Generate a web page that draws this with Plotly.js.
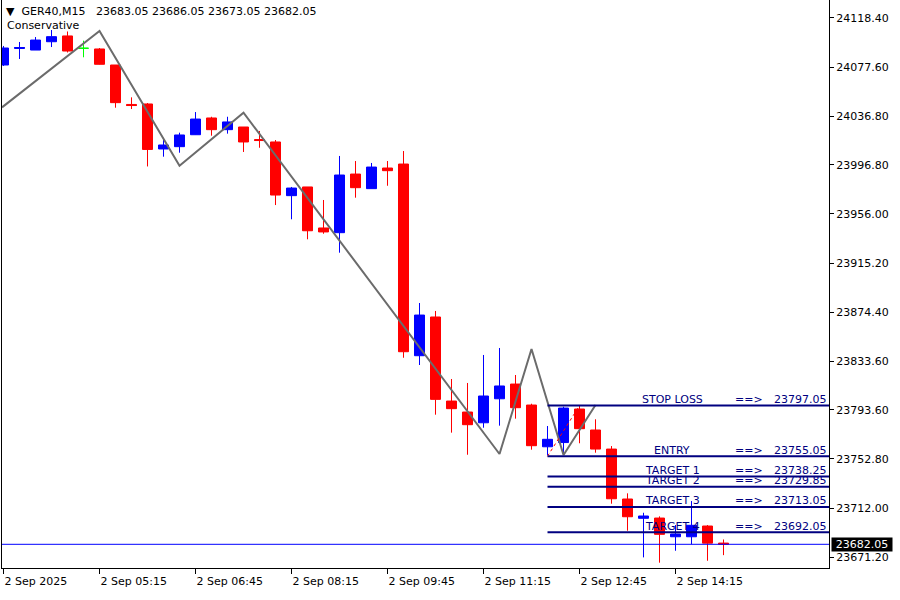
<!DOCTYPE html>
<html>
<head>
<meta charset="utf-8">
<script src="https://cdn.plot.ly/plotly-3.0.1.min.js"></script>
<style>
  html, body { margin: 0; padding: 0; background: #fff; }
  #chart { width: 900px; height: 600px; }
</style>
</head>
<body>
<div id="chart"></div>
<script>
var symbol = 'GER40,M15';
var indicatorName = 'Conservative';
var day = '2025-09-02 ';

// 15 minute bars
var times = [
  '03:45', '04:00', '04:15', '04:30', '04:45', '05:00', '05:15', '05:30',
  '05:45', '06:00', '06:15', '06:30', '06:45', '07:00', '07:15', '07:30',
  '07:45', '08:00', '08:15', '08:30', '08:45', '09:00', '09:15', '09:30',
  '09:45', '10:00', '10:15', '10:30', '10:45', '11:00', '11:15', '11:30',
  '11:45', '12:00', '12:15', '12:30', '12:45', '13:00', '13:15', '13:30',
  '13:45', '14:00', '14:15', '14:30', '14:45', '15:00'
].map(function (t) { return day + t; });

var opens = [
  24079.4, 24093.1, 24091.8, 24098.7, 24103.5, 24093.3, 24092.7, 24079.4,
  24046.7, 24047.1, 24009.8, 24011.7, 24021.6, 24035.5, 24025.8, 24028.0,
  24017.6, 24015.6, 23971.1, 23978.3, 23944.3, 23940.4, 23989.0, 23976.9,
  23994.0, 23997.3, 23838.4, 23870.5, 23800.8, 23791.7, 23782.8, 23802.7,
  23814.9, 23797.5, 23762.9, 23766.4, 23794.2, 23776.8, 23761.0, 23719.6,
  23703.6, 23703.8, 23688.3, 23688.3, 23697.2, 23683.05
];
var highs = [
  24095.2, 24098.5, 24102.6, 24108.4, 24107.2, 24099.6, 24093.5, 24079.4,
  24052.6, 24047.9, 24017.2, 24023.3, 24040.4, 24036.5, 24036.5, 24028.0,
  24024.7, 24017.2, 23978.3, 23978.3, 23967.5, 24004.0, 23999.8, 23998.2,
  23999.8, 24008.1, 23882.1, 23875.5, 23819.1, 23815.8, 23839.0, 23844.8,
  23822.4, 23798.6, 23780.1, 23796.1, 23796.7, 23785.7, 23763.5, 23724.3,
  23708.2, 23705.2, 23698.0, 23717.9, 23698.0, 23686.05
];
var lows = [
  24078.6, 24084.4, 24091.8, 24094.3, 24089.8, 24085.8, 24079.8, 24044.0,
  24042.9, 23995.3, 24003.4, 24006.7, 24021.4, 24020.8, 24022.5, 24007.3,
  24010.8, 23963.3, 23951.5, 23934.9, 23939.5, 23923.8, 23969.4, 23976.9,
  23979.3, 23836.7, 23830.7, 23789.5, 23774.6, 23756.3, 23778.7, 23780.4,
  23786.2, 23760.5, 23756.1, 23756.9, 23765.8, 23758.0, 23715.7, 23693.3,
  23671.2, 23666.8, 23676.7, 23682.1, 23668.4, 23673.05
];
var closes = [
  24093.5, 24093.9, 24100.1, 24102.9, 24091.0, 24093.3, 24080.0, 24048.2,
  24045.8, 24009.4, 24013.1, 24021.4, 24034.6, 24025.8, 24032.2, 24015.6,
  24016.8, 23971.6, 23977.4, 23942.0, 23941.0, 23988.2, 23977.7, 23994.8,
  23991.8, 23841.7, 23872.1, 23802.2, 23794.5, 23781.2, 23805.0, 23813.3,
  23795.3, 23763.8, 23769.1, 23795.0, 23777.9, 23761.0, 23719.8, 23704.9,
  23705.5, 23690.3, 23690.6, 23697.8, 23683.0, 23682.05
];

// zigzag indicator, first point is where the line enters the window
var zigzagTimes = ['03:43:35', '05:15', '06:30', '07:30', '11:30', '12:00', '12:30', '13:00']
  .map(function (t) { return day + t; });
var zigzagPrices = [24044.3, 24107.6, 23995.9, 24039.9, 23756.9, 23843.9, 23756.1, 23797.5];

var levelNames = ['STOP LOSS', 'ENTRY', 'TARGET 1', 'TARGET 2', 'TARGET 3', 'TARGET 4'];
var levelPrices = [23797.05, 23755.05, 23738.25, 23729.85, 23713.05, 23692.05];
var levelStart = day + '12:15';

var tradeTimes = [day + '12:15', day + '12:45'];
var tradePrices = [23755.05, 23797.05];

var bidPrice = 23682.05;

var xTickVals = ['03:45', '05:15', '06:45', '08:15', '09:45', '11:15', '12:45', '14:15']
  .map(function (t) { return day + t; });
var xTickText = ['2 Sep 2025', '2 Sep 05:15', '2 Sep 06:45', '2 Sep 08:15',
  '2 Sep 09:45', '2 Sep 11:15', '2 Sep 12:45', '2 Sep 14:15'];
var yTickVals = [24118.40, 24077.60, 24036.80, 23996.80, 23956.00, 23915.20,
  23874.40, 23833.60, 23793.60, 23752.80, 23712.00, 23671.20];

var xRange = [day + '03:43:35', day + '16:38:54'];
var yRange = [23662.4, 24133.3];

var FONT = 'DejaVu Sans';
var NAVY = '#000080';

// split out doji bars (drawn green like MT4)
function pick(arr, doji) {
  return arr.filter(function (v, i) { return (opens[i] === closes[i]) === doji; });
}

var mainBars = {
  type: 'candlestick',
  x: pick(times, false), open: pick(opens, false), high: pick(highs, false),
  low: pick(lows, false), close: pick(closes, false),
  increasing: { line: { color: '#0000ff', width: 1 }, fillcolor: '#0000ff' },
  decreasing: { line: { color: '#ff0000', width: 1 }, fillcolor: '#ff0000' },
  hoverinfo: 'skip'
};
var dojiBars = {
  type: 'candlestick',
  x: pick(times, true), open: pick(opens, true), high: pick(highs, true),
  low: pick(lows, true), close: pick(closes, true),
  increasing: { line: { color: '#00ff00', width: 1 }, fillcolor: '#00ff00' },
  decreasing: { line: { color: '#00ff00', width: 1 }, fillcolor: '#00ff00' },
  hoverinfo: 'skip'
};
var zigzag = {
  type: 'scatter', mode: 'lines',
  x: zigzagTimes, y: zigzagPrices,
  line: { color: '#6b6b6b', width: 2 },
  hoverinfo: 'skip'
};
var trade = {
  type: 'scatter', mode: 'lines',
  x: tradeTimes, y: tradePrices,
  line: { color: '#ff0000', width: 1, dash: 'dot' },
  hoverinfo: 'skip'
};

var shapes = [{
  type: 'line', xref: 'paper', x0: 0, x1: 1, yref: 'y', y0: bidPrice, y1: bidPrice,
  line: { color: '#0000ff', width: 1 }
}];
var annotations = [];
levelNames.forEach(function (name, i) {
  var p = levelPrices[i];
  shapes.push({
    type: 'line', xref: 'x', x0: levelStart, x1: xRange[1], yref: 'y', y0: p, y1: p,
    line: { color: NAVY, width: 2 }
  });
  var base = { yref: 'y', y: p, xref: 'paper', yanchor: 'middle', yshift: 6,
    showarrow: false, borderpad: 0, font: { family: FONT, size: 11, color: NAVY } };
  annotations.push(Object.assign({}, base, { x: 0.8102, xanchor: 'center', text: name }));
  annotations.push(Object.assign({}, base, { x: 0.9033, xanchor: 'center', text: '==&gt;' }));
  annotations.push(Object.assign({}, base, { x: 0.9988, xanchor: 'right', text: p.toFixed(2) }));
});

var last = times.length - 1;
annotations.push({
  xref: 'paper', x: 0, xanchor: 'left', xshift: 3,
  yref: 'paper', y: 1, yanchor: 'top', yshift: -4,
  showarrow: false, borderpad: 0,
  font: { family: FONT, size: 11, color: '#000' },
  text: '\u25BC\u00a0\u00a0' + symbol + '\u00a0\u00a0\u00a0' +
    [opens[last], highs[last], lows[last], closes[last]].map(function (v) { return v.toFixed(2); }).join('\u00a0')
});
annotations.push({
  xref: 'paper', x: 0, xanchor: 'left', xshift: 4,
  yref: 'paper', y: 1, yanchor: 'top', yshift: -18,
  showarrow: false, borderpad: 0,
  font: { family: FONT, size: 11, color: '#000' },
  text: indicatorName
});
annotations.push({
  xref: 'paper', x: 1, xanchor: 'left', xshift: 2,
  yref: 'y', y: bidPrice, yanchor: 'middle',
  showarrow: false, borderpad: 0, width: 60, height: 13,
  bgcolor: '#000', font: { family: FONT, size: 11, color: '#fff' },
  text: bidPrice.toFixed(2)
});

var layout = {
  width: 900, height: 600,
  margin: { l: 2, r: 71, t: 0, b: 32 },
  paper_bgcolor: '#fff', plot_bgcolor: '#fff',
  font: { family: FONT, size: 11, color: '#000' },
  showlegend: false,
  hovermode: false,
  boxgap: 0.375, boxgroupgap: 0,
  xaxis: {
    type: 'date', range: xRange,
    tickvals: xTickVals, ticktext: xTickText,
    ticks: 'outside', ticklen: 5, tickcolor: '#000',
    ticklabelposition: 'outside right', ticklabelstandoff: 3,
    showline: true, linecolor: '#000', linewidth: 1,
    showgrid: false, zeroline: false,
    rangeslider: { visible: false },
    tickfont: { family: FONT, size: 11, color: '#000' },
    fixedrange: true
  },
  yaxis: {
    side: 'right', range: yRange,
    tickvals: yTickVals, ticktext: yTickVals.map(function (v) { return v.toFixed(2); }),
    ticks: 'outside', ticklen: 4, tickcolor: '#000',
    showline: true, mirror: true, linecolor: '#000', linewidth: 1,
    showgrid: false, zeroline: false,
    tickfont: { family: FONT, size: 11, color: '#000' },
    fixedrange: true
  },
  shapes: shapes,
  annotations: annotations
};

Plotly.newPlot('chart', [mainBars, dojiBars, zigzag, trade], layout, { staticPlot: true });
</script>
</body>
</html>
